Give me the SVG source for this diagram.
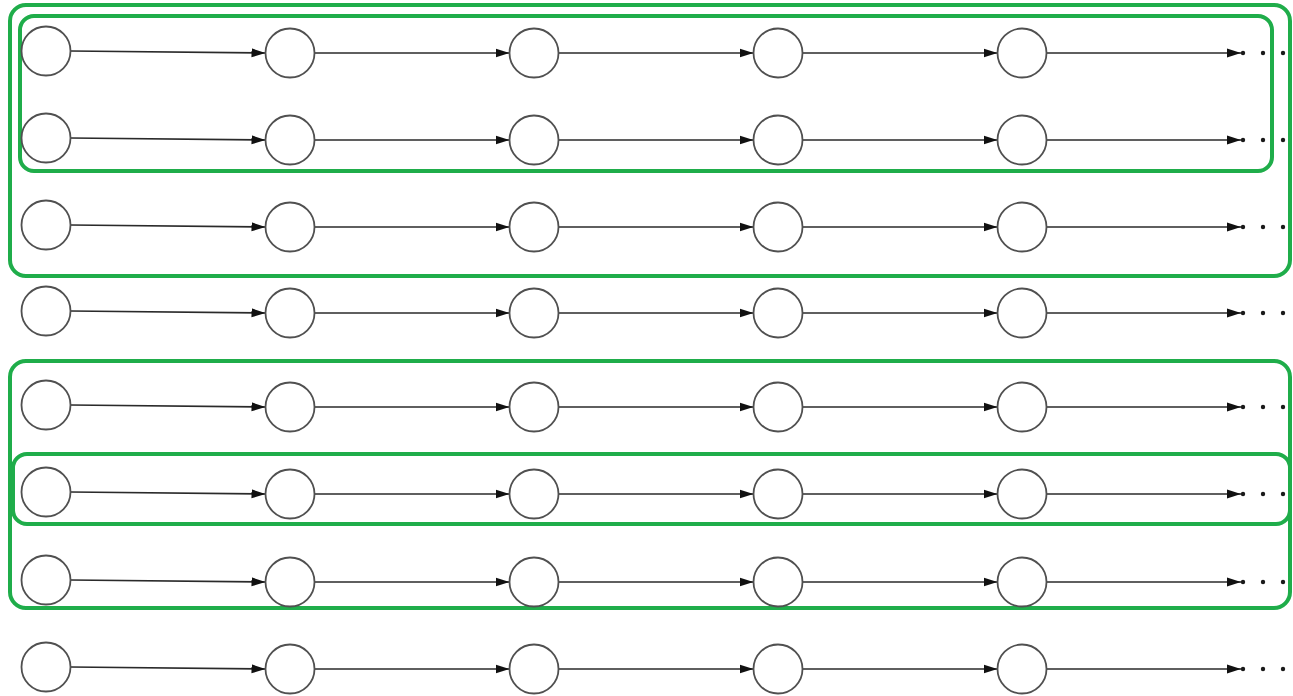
<svg xmlns="http://www.w3.org/2000/svg" width="1293" height="696" viewBox="0 0 1293 696">
<style>
.n{fill:#fff;stroke:#505050;stroke-width:1.8}
.e{stroke:#2a2a2a;stroke-width:1.7;fill:none}
.g{fill:none;stroke:#1fad4a;stroke-width:4}
.d{fill:#1a1a1a}
</style>
<defs>
<marker id="ah" markerUnits="userSpaceOnUse" markerWidth="14" markerHeight="10" refX="14" refY="5" orient="auto">
<path d="M0,0.5 L14,5 L0,9.5 z" fill="#111"/>
</marker>
</defs>
<rect width="1293" height="696" fill="#fff"/>
<g id="groups">
<rect class="g" x="10" y="5" width="1280" height="271" rx="16"/>
<rect class="g" x="20" y="16" width="1252" height="155" rx="14"/>
<rect class="g" x="10" y="361" width="1280" height="247" rx="16"/>
<rect class="g" x="13" y="454" width="1277" height="70" rx="14"/>
</g>
<g id="connectors">
<path class="e" marker-end="url(#ah)" d="M70.5,51 L265.5,53"/>
<path class="e" marker-end="url(#ah)" d="M314.5,53 L509.5,53"/>
<path class="e" marker-end="url(#ah)" d="M558.5,53 L753.5,53"/>
<path class="e" marker-end="url(#ah)" d="M802.5,53 L997.5,53"/>
<path class="e" marker-end="url(#ah)" d="M1046.5,53 L1241,53"/>
<path class="e" marker-end="url(#ah)" d="M70.5,138 L265.5,140"/>
<path class="e" marker-end="url(#ah)" d="M314.5,140 L509.5,140"/>
<path class="e" marker-end="url(#ah)" d="M558.5,140 L753.5,140"/>
<path class="e" marker-end="url(#ah)" d="M802.5,140 L997.5,140"/>
<path class="e" marker-end="url(#ah)" d="M1046.5,140 L1241,140"/>
<path class="e" marker-end="url(#ah)" d="M70.5,225 L265.5,227"/>
<path class="e" marker-end="url(#ah)" d="M314.5,227 L509.5,227"/>
<path class="e" marker-end="url(#ah)" d="M558.5,227 L753.5,227"/>
<path class="e" marker-end="url(#ah)" d="M802.5,227 L997.5,227"/>
<path class="e" marker-end="url(#ah)" d="M1046.5,227 L1241,227"/>
<path class="e" marker-end="url(#ah)" d="M70.5,311 L265.5,313"/>
<path class="e" marker-end="url(#ah)" d="M314.5,313 L509.5,313"/>
<path class="e" marker-end="url(#ah)" d="M558.5,313 L753.5,313"/>
<path class="e" marker-end="url(#ah)" d="M802.5,313 L997.5,313"/>
<path class="e" marker-end="url(#ah)" d="M1046.5,313 L1241,313"/>
<path class="e" marker-end="url(#ah)" d="M70.5,405 L265.5,407"/>
<path class="e" marker-end="url(#ah)" d="M314.5,407 L509.5,407"/>
<path class="e" marker-end="url(#ah)" d="M558.5,407 L753.5,407"/>
<path class="e" marker-end="url(#ah)" d="M802.5,407 L997.5,407"/>
<path class="e" marker-end="url(#ah)" d="M1046.5,407 L1241,407"/>
<path class="e" marker-end="url(#ah)" d="M70.5,492 L265.5,494"/>
<path class="e" marker-end="url(#ah)" d="M314.5,494 L509.5,494"/>
<path class="e" marker-end="url(#ah)" d="M558.5,494 L753.5,494"/>
<path class="e" marker-end="url(#ah)" d="M802.5,494 L997.5,494"/>
<path class="e" marker-end="url(#ah)" d="M1046.5,494 L1241,494"/>
<path class="e" marker-end="url(#ah)" d="M70.5,580 L265.5,582"/>
<path class="e" marker-end="url(#ah)" d="M314.5,582 L509.5,582"/>
<path class="e" marker-end="url(#ah)" d="M558.5,582 L753.5,582"/>
<path class="e" marker-end="url(#ah)" d="M802.5,582 L997.5,582"/>
<path class="e" marker-end="url(#ah)" d="M1046.5,582 L1241,582"/>
<path class="e" marker-end="url(#ah)" d="M70.5,667 L265.5,669"/>
<path class="e" marker-end="url(#ah)" d="M314.5,669 L509.5,669"/>
<path class="e" marker-end="url(#ah)" d="M558.5,669 L753.5,669"/>
<path class="e" marker-end="url(#ah)" d="M802.5,669 L997.5,669"/>
<path class="e" marker-end="url(#ah)" d="M1046.5,669 L1241,669"/>
</g>
<g id="ellipsis">
<circle class="d" cx="1243" cy="53" r="2.2"/><circle class="d" cx="1263" cy="53" r="2.2"/><circle class="d" cx="1283" cy="53" r="2.2"/>
<circle class="d" cx="1243" cy="140" r="2.2"/><circle class="d" cx="1263" cy="140" r="2.2"/><circle class="d" cx="1283" cy="140" r="2.2"/>
<circle class="d" cx="1243" cy="227" r="2.2"/><circle class="d" cx="1263" cy="227" r="2.2"/><circle class="d" cx="1283" cy="227" r="2.2"/>
<circle class="d" cx="1243" cy="313" r="2.2"/><circle class="d" cx="1263" cy="313" r="2.2"/><circle class="d" cx="1283" cy="313" r="2.2"/>
<circle class="d" cx="1243" cy="407" r="2.2"/><circle class="d" cx="1263" cy="407" r="2.2"/><circle class="d" cx="1283" cy="407" r="2.2"/>
<circle class="d" cx="1243" cy="494" r="2.2"/><circle class="d" cx="1263" cy="494" r="2.2"/><circle class="d" cx="1283" cy="494" r="2.2"/>
<circle class="d" cx="1243" cy="582" r="2.2"/><circle class="d" cx="1263" cy="582" r="2.2"/><circle class="d" cx="1283" cy="582" r="2.2"/>
<circle class="d" cx="1243" cy="669" r="2.2"/><circle class="d" cx="1263" cy="669" r="2.2"/><circle class="d" cx="1283" cy="669" r="2.2"/>
</g>
<g id="n1_1"><circle class="n" cx="46" cy="51" r="24.5"/></g>
<g id="n1_2"><circle class="n" cx="290" cy="53" r="24.5"/></g>
<g id="n1_3"><circle class="n" cx="534" cy="53" r="24.5"/></g>
<g id="n1_4"><circle class="n" cx="778" cy="53" r="24.5"/></g>
<g id="n1_5"><circle class="n" cx="1022" cy="53" r="24.5"/></g>
<g id="n2_1"><circle class="n" cx="46" cy="138" r="24.5"/></g>
<g id="n2_2"><circle class="n" cx="290" cy="140" r="24.5"/></g>
<g id="n2_3"><circle class="n" cx="534" cy="140" r="24.5"/></g>
<g id="n2_4"><circle class="n" cx="778" cy="140" r="24.5"/></g>
<g id="n2_5"><circle class="n" cx="1022" cy="140" r="24.5"/></g>
<g id="n3_1"><circle class="n" cx="46" cy="225" r="24.5"/></g>
<g id="n3_2"><circle class="n" cx="290" cy="227" r="24.5"/></g>
<g id="n3_3"><circle class="n" cx="534" cy="227" r="24.5"/></g>
<g id="n3_4"><circle class="n" cx="778" cy="227" r="24.5"/></g>
<g id="n3_5"><circle class="n" cx="1022" cy="227" r="24.5"/></g>
<g id="n4_1"><circle class="n" cx="46" cy="311" r="24.5"/></g>
<g id="n4_2"><circle class="n" cx="290" cy="313" r="24.5"/></g>
<g id="n4_3"><circle class="n" cx="534" cy="313" r="24.5"/></g>
<g id="n4_4"><circle class="n" cx="778" cy="313" r="24.5"/></g>
<g id="n4_5"><circle class="n" cx="1022" cy="313" r="24.5"/></g>
<g id="n5_1"><circle class="n" cx="46" cy="405" r="24.5"/></g>
<g id="n5_2"><circle class="n" cx="290" cy="407" r="24.5"/></g>
<g id="n5_3"><circle class="n" cx="534" cy="407" r="24.5"/></g>
<g id="n5_4"><circle class="n" cx="778" cy="407" r="24.5"/></g>
<g id="n5_5"><circle class="n" cx="1022" cy="407" r="24.5"/></g>
<g id="n6_1"><circle class="n" cx="46" cy="492" r="24.5"/></g>
<g id="n6_2"><circle class="n" cx="290" cy="494" r="24.5"/></g>
<g id="n6_3"><circle class="n" cx="534" cy="494" r="24.5"/></g>
<g id="n6_4"><circle class="n" cx="778" cy="494" r="24.5"/></g>
<g id="n6_5"><circle class="n" cx="1022" cy="494" r="24.5"/></g>
<g id="n7_1"><circle class="n" cx="46" cy="580" r="24.5"/></g>
<g id="n7_2"><circle class="n" cx="290" cy="582" r="24.5"/></g>
<g id="n7_3"><circle class="n" cx="534" cy="582" r="24.5"/></g>
<g id="n7_4"><circle class="n" cx="778" cy="582" r="24.5"/></g>
<g id="n7_5"><circle class="n" cx="1022" cy="582" r="24.5"/></g>
<g id="n8_1"><circle class="n" cx="46" cy="667" r="24.5"/></g>
<g id="n8_2"><circle class="n" cx="290" cy="669" r="24.5"/></g>
<g id="n8_3"><circle class="n" cx="534" cy="669" r="24.5"/></g>
<g id="n8_4"><circle class="n" cx="778" cy="669" r="24.5"/></g>
<g id="n8_5"><circle class="n" cx="1022" cy="669" r="24.5"/></g>
</svg>
